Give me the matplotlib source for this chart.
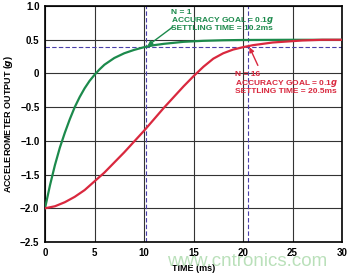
import matplotlib
matplotlib.use("Agg")
import matplotlib.pyplot as plt

plt.rcParams['font.family'] = ['Liberation Sans', 'DejaVu Sans']

# values
time_n1 = [0, 0.25, 0.5, 0.75, 1, 1.5, 2, 2.5, 3, 3.5, 4, 4.5, 5, 5.5, 6, 7, 8, 9,
           10, 11, 12, 14, 16, 18, 20, 25, 30]
out_n1 = [-2.0, -1.83, -1.66, -1.51, -1.36, -1.1, -0.88, -0.68, -0.5, -0.35,
          -0.22, -0.11, -0.02, 0.06, 0.13, 0.23, 0.3, 0.35, 0.39, 0.42, 0.44,
          0.47, 0.485, 0.493, 0.497, 0.5, 0.5]

time_n16 = [0, 1, 2, 3, 4, 5, 6, 7, 8, 9, 10, 11, 12, 13, 14, 15, 16, 17, 18, 19,
            20, 21, 22, 23, 24, 25, 26, 27, 28, 30]
out_n16 = [-2.0, -1.97, -1.91, -1.83, -1.73, -1.6, -1.47, -1.32, -1.17, -1.01,
           -0.85, -0.68, -0.51, -0.35, -0.19, -0.04, 0.1, 0.22, 0.3, 0.355,
           0.39, 0.42, 0.44, 0.46, 0.47, 0.48, 0.49, 0.495, 0.5, 0.5]

goal_level = 0.4
settle_n1 = 10.2
settle_n16 = 20.5

note_n1 = ["N = 1", "ACCURACY GOAL = 0.1$\\mathbfit{g}$", "SETTLING TIME = 10.2ms"]
note_n16 = ["N = 16", "ACCURACY GOAL = 0.1$\\mathbfit{g}$", "SETTLING TIME = 20.5ms"]

xticks = [0, 5, 10, 15, 20, 25, 30]
yticks = [1.0, 0.5, 0, -0.5, -1.0, -1.5, -2.0, -2.5]
ytick_labels = ["1.0", "0.5", "0", "\u22120.5", "\u22121.0", "\u22121.5", "\u22122.0", "\u22122.5"]

green = "#1c8a4c"
red = "#d9283e"
blue = "#4a3fa8"

fig = plt.figure(figsize=(3.5, 2.77), dpi=100)
ax = fig.add_axes([0.1286, 0.1264, 0.8486, 0.8516])

ax.set_xlim(0, 30)
ax.set_ylim(-2.5, 1.0)
ax.set_xticks(xticks)
ax.set_yticks(yticks)
ax.set_yticklabels(ytick_labels)
ax.tick_params(length=0, labelsize=7, pad=4)
for lab in ax.get_xticklabels() + ax.get_yticklabels():
    lab.set_fontweight("bold")
ax.grid(True, color="#333333", linewidth=0.8)
for sp in ax.spines.values():
    sp.set_linewidth(1.2)

ax.axhline(goal_level, color=blue, linestyle=(0, (4, 2)), linewidth=0.8, zorder=2)
ax.axvline(settle_n1, color=blue, linestyle=(0, (4, 2)), linewidth=0.8, zorder=2)
ax.axvline(settle_n16, color=blue, linestyle=(0, (4, 2)), linewidth=0.8, zorder=2)

ax.plot(time_n1, out_n1, color=green, linewidth=1.6, zorder=3)
ax.plot(time_n16, out_n16, color=red, linewidth=1.6, zorder=3)


def note(lines, x, y, color):
    # one text per line so the italic g does not upset the line spacing
    for i, line in enumerate(lines):
        ax.annotate(line, xy=(x, y), xytext=(0, -i * 5.9), textcoords="offset points",
                    ha="left", va="center", fontsize=6.0, fontweight="bold",
                    color=color, zorder=5)


note(note_n1, 12.75, 0.91, green)
note(note_n16, 19.2, -0.02, red)

ax.annotate("", xy=(10.35, 0.41), xytext=(12.9, 0.69),
            arrowprops=dict(arrowstyle="-|>", color=green, lw=1.0, mutation_scale=7,
                            shrinkA=0, shrinkB=0))
ax.annotate("", xy=(20.65, 0.39), xytext=(21.5, 0.12),
            arrowprops=dict(arrowstyle="-|>", color=red, lw=1.0, mutation_scale=7,
                            shrinkA=0, shrinkB=0))

ax.set_xlabel("TIME (ms)", fontsize=6.5, fontweight="bold", labelpad=5)
ax.set_ylabel("ACCELEROMETER OUTPUT ($\\mathbfit{g}$)", fontsize=6.5, fontweight="bold", labelpad=4)

fig.text(0.705, 0.055, "www.cntronics.com", color="#a9d9a9", fontsize=13.5,
         ha="center", va="center", alpha=0.8)

fig.savefig("out.png", dpi=100)
